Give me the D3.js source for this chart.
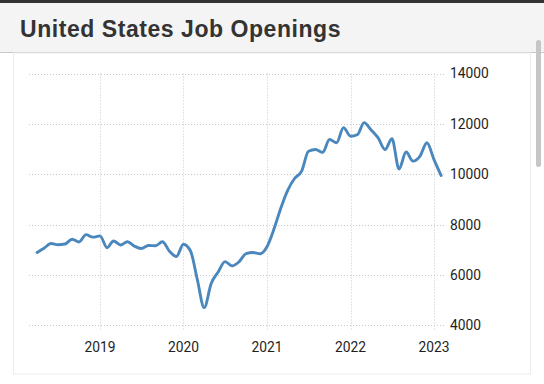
<!DOCTYPE html>
<html>
<head>
<meta charset="utf-8">
<script src="https://cdn.jsdelivr.net/npm/d3@7"></script>
<style>
body{margin:0;background:#fff;}
svg{display:block;}
</style>
</head>
<body>
<svg id="chart"></svg>
<script>
var title = "United States Job Openings"

var months = [
  "2018-04","2018-05","2018-06","2018-07","2018-08","2018-09","2018-10","2018-11","2018-12",
  "2019-01","2019-02","2019-03","2019-04","2019-05","2019-06","2019-07","2019-08","2019-09","2019-10","2019-11","2019-12",
  "2020-01","2020-02","2020-03","2020-04","2020-05","2020-06","2020-07","2020-08","2020-09","2020-10","2020-11","2020-12",
  "2021-01","2021-02","2021-03","2021-04","2021-05","2021-06","2021-07","2021-08","2021-09","2021-10","2021-11","2021-12",
  "2022-01","2022-02","2022-03","2022-04","2022-05","2022-06","2022-07","2022-08","2022-09","2022-10","2022-11","2022-12",
  "2023-01","2023-02"]

var openings = [
  6890,7060,7250,7200,7230,7420,7310,7600,7500,
  7550,7080,7350,7190,7320,7140,7050,7170,7160,7320,6940,6730,
  7220,6950,5850,4700,5650,6120,6530,6360,6530,6850,6890,6840,
  7130,7850,8630,9360,9830,10120,10910,10980,10870,11380,11250,11850,
  11510,11580,12050,11760,11450,10980,11410,10210,10880,10520,10720,11250,
  10580,9950]

var yearTicks = ["2019","2020","2021","2022","2023"]
var valueTicks = [4000,6000,8000,10000,12000,14000]

var width = 544, height = 384
var parseMonth = d3.timeParse("%Y-%m")
var parseYear = d3.timeParse("%Y")

var data = months.map((m,i)=>({date:parseMonth(m),value:openings[i]}))

var svg = d3.select("#chart")
    .attr("width",width)
    .attr("height",height)

// header
svg.append("rect")
   .attr("x",0).attr("y",0)
   .attr("width",width).attr("height",52)
   .attr("fill","#f4f4f4")
svg.append("rect")
   .attr("x",0).attr("y",0)
   .attr("width",width).attr("height",3)
   .attr("fill","#333")
svg.append("line")
   .attr("x1",0).attr("x2",width)
   .attr("y1",52.5).attr("y2",52.5)
   .attr("stroke","#c8c8c8")
svg.append("text")
   .attr("x",20)
   .attr("y",37)
   .attr("font-family","'Liberation Sans', Arial, sans-serif")
   .attr("font-weight","bold")
   .attr("font-size","23px")
   .attr("letter-spacing","0.55px")
   .attr("fill","#333")
   .text(title)

// panel
svg.append("rect")
   .attr("x",13.5).attr("y",53)
   .attr("width",517).attr("height",321)
   .attr("fill","#fff")
   .attr("stroke","#ececec")

// scrollbar
svg.append("rect")
   .attr("x",536).attr("y",40)
   .attr("width",5).attr("height",127)
   .attr("rx",2.5)
   .attr("fill","#c6c6c6")

var x = d3.scaleTime()
          .domain([parseYear("2019"),parseYear("2023")])
          .range([100,434])
var y = d3.scaleLinear()
          .domain([4000,14000])
          .range([325.3,73.5])

var gridLeft = 29, gridRight = 446

var grid = svg.append("g").classed("grid",true)
grid.selectAll(".hgrid")
    .data(valueTicks)
    .enter()
    .append("line")
    .classed("hgrid",true)
    .attr("x1",gridLeft)
    .attr("x2",gridRight)
    .attr("y1",d=>Math.round(y(d))+0.5)
    .attr("y2",d=>Math.round(y(d))+0.5)
    .attr("stroke","#c8c8c8")
    .attr("stroke-dasharray","1,2")

grid.selectAll(".vgrid")
    .data(yearTicks)
    .enter()
    .append("line")
    .classed("vgrid",true)
    .attr("x1",d=>Math.round(x(parseYear(d)))+0.5)
    .attr("x2",d=>Math.round(x(parseYear(d)))+0.5)
    .attr("y1",y(14000))
    .attr("y2",y(4000)+4)
    .attr("stroke","#c8c8c8")
    .attr("stroke-dasharray","1,2")

svg.selectAll(".ylabel")
   .data(valueTicks)
   .enter()
   .append("text")
   .classed("ylabel",true)
   .attr("x",450)
   .attr("y",d=>y(d))
   .attr("dy","0.36em")
   .attr("font-family","Roboto, sans-serif")
   .attr("font-size","13.8px")
   .attr("fill","#1e1e1e")
   .text(d=>d)

svg.selectAll(".xlabel")
   .data(yearTicks)
   .enter()
   .append("text")
   .classed("xlabel",true)
   .attr("x",d=>x(parseYear(d)))
   .attr("y",352)
   .attr("font-family","Roboto, sans-serif")
   .attr("font-size","13.8px")
   .attr("fill","#1e1e1e")
   .style("text-anchor","middle")
   .text(d=>d)

var line = d3.line()
             .x(d=>x(d.date))
             .y(d=>y(d.value))
             .curve(d3.curveMonotoneX)

svg.append("path")
   .datum(data)
   .attr("d",line)
   .attr("fill","none")
   .attr("stroke","#4a87bd")
   .attr("stroke-width",2.9)
   .attr("stroke-linejoin","round")
   .attr("stroke-linecap","round")
</script>
</body>
</html>
